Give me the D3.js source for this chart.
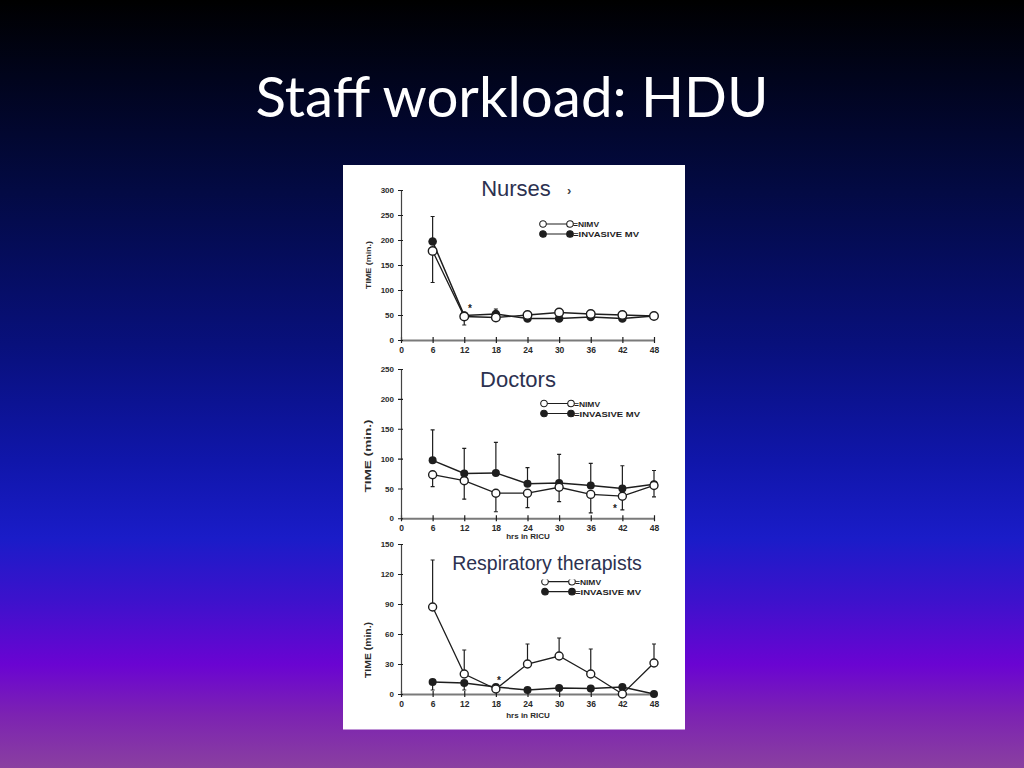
<!DOCTYPE html>
<html>
<head>
<meta charset="utf-8">
<script src="https://cdn.jsdelivr.net/npm/d3@7"></script>
<style>
  body { margin: 0; background: #000; }
  svg { display: block; }
</style>
</head>
<body>
<div id="slide"></div>
<script>
// values
const hours = [6, 12, 18, 24, 30, 36, 42, 48];
const xTicks = [0, 6, 12, 18, 24, 30, 36, 42, 48];

const nursesNimv = [178, 47, 45, 50, 55, 52, 50, 48];
const nursesInvasive = [197, 49, 52, 43, 43, 46, 43, 48];
const nursesInvasiveHigh = [247, null, 62, null, null, null, null, null];
const nursesNimvLow = [115, 30, null, null, null, null, null, null];
const nursesTicks = [0, 50, 100, 150, 200, 250, 300];

const doctorsNimv = [73, 63, 42, 42, 52, 40, 37, 55];
const doctorsInvasive = [97, 75, 76, 58, 59, 55, 50, 57];
const doctorsInvasiveHigh = [148, 117, 127, 85, 107, 92, 88, 80];
const doctorsNimvLow = [53, 32, 11, 18, 28, 9, 14, 36];
const doctorsTicks = [0, 50, 100, 150, 200, 250];

const rtNimv = [87, 20, 5, 30, 38, 20, 0, 31];
const rtInvasive = [12, 11, 7, 4, 6, 5.5, 7, 0];
const rtNimvHigh = [134, 44, null, 50, 56, 45, null, 50];
const rtInvasiveLow = [4, 4, 3, null, null, null, null, null];
const rtTicks = [0, 30, 60, 90, 120, 150];

const ink = "#1e1e1e";
const fontChart = "'Liberation Sans', Arial, sans-serif";

const svg = d3.select("#slide").append("svg")
    .attr("width", 1024)
    .attr("height", 768);

// slide background
const grad = svg.append("defs").append("linearGradient")
    .attr("id", "bg").attr("x1", 0).attr("y1", 0).attr("x2", 0).attr("y2", 1);
[[0, "#000000"], [0.1, "#01041c"], [0.25, "#030a44"], [0.45, "#08107c"],
 [0.6, "#1016aa"], [0.7, "#1a1cc8"], [0.78, "#3c12cc"], [0.865, "#6a04d2"],
 [0.93, "#7c22b2"], [1, "#8a40a0"]].forEach(s => {
    grad.append("stop").attr("offset", s[0]).attr("stop-color", s[1]);
});
svg.append("rect").attr("width", 1024).attr("height", 768).attr("fill", "url(#bg)");

// title, fitted to the width it has on the slide
const title = svg.append("text")
    .text("Staff workload: HDU")
    .attr("x", 512).attr("y", 117)
    .attr("text-anchor", "middle")
    .attr("font-family", "Lato, 'Open Sans', sans-serif")
    .attr("font-size", 60)
    .attr("fill", "#ffffff");
const tw = title.node().getComputedTextLength();
title.attr("font-size", 60 * 513 / tw);

// white figure panel
svg.append("rect")
    .attr("x", 343).attr("y", 165)
    .attr("width", 342).attr("height", 564.5)
    .attr("fill", "#ffffff");

const defs = svg.select("defs");

const drawPanel = (cfg, idx) => {
    defs.append("clipPath").attr("id", "clip" + idx)
        .append("rect")
        .attr("x", 343).attr("y", cfg.clip[0])
        .attr("width", 342).attr("height", cfg.clip[1] - cfg.clip[0]);

    const g = svg.append("g").attr("clip-path", "url(#clip" + idx + ")");

    const x = d3.scaleLinear().domain([0, 48]).range([401, 654]);
    const y = d3.scaleLinear().domain([0, cfg.ticks[cfg.ticks.length - 1]]).range(cfg.yRange);

    // x axis
    const xa = g.append("g")
        .attr("transform", "translate(0," + y(0) + ")")
        .call(d3.axisBottom(x).tickValues(xTicks).tickSize(3).tickPadding(4).tickSizeOuter(0));
    xa.select(".domain").attr("stroke", "#7a7a7a").attr("stroke-width", 2);
    xa.selectAll(".tick line").attr("y1", -3).attr("stroke", ink).attr("stroke-width", 1.2);
    xa.selectAll(".tick text")
        .attr("font-family", fontChart).attr("font-size", 8.5)
        .attr("font-weight", "bold").attr("fill", "#2a2a2a");

    // y axis
    const ya = g.append("g")
        .attr("transform", "translate(401,0)")
        .call(d3.axisLeft(y).tickValues(cfg.ticks).tickSize(3).tickPadding(4).tickSizeOuter(0));
    ya.select(".domain").attr("stroke", "#444").attr("stroke-width", 1.2);
    ya.selectAll(".tick line").attr("x1", 2).attr("stroke", ink).attr("stroke-width", 1.1);
    ya.selectAll(".tick text")
        .attr("font-family", fontChart).attr("font-size", 8)
        .attr("font-weight", "bold").attr("fill", "#2a2a2a");

    // axis titles
    g.append("text")
        .text("TIME (min.)")
        .attr("transform", "translate(371," + cfg.yLabel[0] + ") rotate(-90)")
        .attr("text-anchor", "middle")
        .attr("font-family", fontChart).attr("font-weight", "bold")
        .attr("font-size", cfg.yLabel[1])
        .attr("textLength", cfg.yLabel[2]).attr("lengthAdjust", "spacingAndGlyphs")
        .attr("fill", "#2a2a2a");

    g.append("text")
        .text("hrs in RICU")
        .attr("x", 528).attr("y", cfg.xLabelY)
        .attr("text-anchor", "middle")
        .attr("font-family", fontChart).attr("font-weight", "bold")
        .attr("font-size", 8).attr("fill", "#2a2a2a");

    const line = d3.line().x((d, i) => x(hours[i])).y(d => y(d));

    // error bars
    const bars = (vals, base) => {
        vals.forEach((v, i) => {
            if (v === null) return;
            const cx = x(hours[i]);
            g.append("line")
                .attr("x1", cx).attr("x2", cx)
                .attr("y1", y(base[i])).attr("y2", y(v))
                .attr("stroke", ink).attr("stroke-width", 1.2);
            g.append("line")
                .attr("x1", cx - 2).attr("x2", cx + 2)
                .attr("y1", y(v)).attr("y2", y(v))
                .attr("stroke", ink).attr("stroke-width", 1.2);
        });
    };
    cfg.bars.forEach(b => bars(b[0], b[1]));

    // series lines
    g.append("path").datum(cfg.invasive)
        .attr("d", line).attr("fill", "none")
        .attr("stroke", ink).attr("stroke-width", 1.5);
    g.append("path").datum(cfg.nimv)
        .attr("d", line).attr("fill", "none")
        .attr("stroke", ink).attr("stroke-width", 1.3);

    // markers
    g.selectAll(".inv").data(cfg.invasive).join("circle")
        .attr("cx", (d, i) => x(hours[i])).attr("cy", d => y(d))
        .attr("r", cfg.r).attr("fill", ink);
    g.selectAll(".nimv").data(cfg.nimv).join("circle")
        .attr("cx", (d, i) => x(hours[i])).attr("cy", d => y(d))
        .attr("r", cfg.r).attr("fill", "#ffffff")
        .attr("stroke", ink).attr("stroke-width", 1.4);

    // significance mark
    g.append("text")
        .text("*")
        .attr("x", cfg.star[0]).attr("y", cfg.star[1] + 5)
        .attr("text-anchor", "middle")
        .attr("font-family", fontChart).attr("font-weight", "bold")
        .attr("font-size", 10).attr("fill", ink);

    // legend
    const lg = g.append("g").attr("transform", "translate(" + cfg.legend[0] + "," + cfg.legend[1] + ")");
    [["=NIMV", false, 0, 26], ["=INVASIVE MV", true, 10, 66]].forEach(r => {
        lg.append("line")
            .attr("x1", 0).attr("x2", 27).attr("y1", r[2]).attr("y2", r[2])
            .attr("stroke", ink).attr("stroke-width", 1.2);
        [0, 27].forEach(cx => {
            lg.append("circle")
                .attr("cx", cx).attr("cy", r[2]).attr("r", 3.3)
                .attr("fill", r[1] ? ink : "#ffffff")
                .attr("stroke", ink).attr("stroke-width", 1.1);
        });
        lg.append("text")
            .text(r[0])
            .attr("x", 30).attr("y", r[2] + 3)
            .attr("font-family", fontChart).attr("font-weight", "bold")
            .attr("font-size", 8)
            .attr("textLength", r[3]).attr("lengthAdjust", "spacingAndGlyphs")
            .attr("fill", ink);
    });

    // slide caption pasted over the figure
    g.append("rect")
        .attr("x", cfg.caption.box[0]).attr("y", cfg.caption.box[1])
        .attr("width", cfg.caption.box[2]).attr("height", cfg.caption.box[3])
        .attr("fill", "#ffffff");
    g.append("text")
        .text(cfg.caption.text)
        .attr("x", cfg.caption.x).attr("y", cfg.caption.y)
        .attr("text-anchor", "middle")
        .attr("font-family", fontChart)
        .attr("font-size", cfg.caption.size)
        .attr("fill", "#2c3150");
};

const panels = [
    {
        ticks: nursesTicks, yRange: [340, 190], clip: [165, 360.5],
        nimv: nursesNimv, invasive: nursesInvasive,
        bars: [[nursesInvasiveHigh, nursesInvasive], [nursesNimvLow, nursesNimv]],
        r: 4.3, star: [470, 307], legend: [543, 224],
        yLabel: [265, 8, 48], xLabelY: 367,
        caption: { text: "Nurses", x: 516, y: 196, size: 22, box: [470, 176, 90, 26] }
    },
    {
        ticks: doctorsTicks, yRange: [518.3, 369], clip: [360.5, 540.5],
        nimv: doctorsNimv, invasive: doctorsInvasive,
        bars: [[doctorsInvasiveHigh, doctorsInvasive], [doctorsNimvLow, doctorsNimv]],
        r: 4, star: [615, 507], legend: [544, 403.5],
        yLabel: [456, 9.5, 73], xLabelY: 539,
        caption: { text: "Doctors", x: 518, y: 387, size: 22, box: [470, 367, 96, 26] }
    },
    {
        ticks: rtTicks, yRange: [694, 544], clip: [540.5, 729.5],
        nimv: rtNimv, invasive: rtInvasive,
        bars: [[rtNimvHigh, rtNimv], [rtInvasiveLow, rtInvasive]],
        r: 4, star: [499, 679], legend: [545, 581.7],
        yLabel: [650, 9, 56], xLabelY: 718,
        caption: { text: "Respiratory therapists", x: 547, y: 570, size: 19.5, box: [445, 549, 205, 30.5] }
    }
];

panels.forEach(drawPanel);

// stray mark next to the first caption
svg.append("text")
    .text("\u203a")
    .attr("x", 567).attr("y", 195)
    .attr("font-family", fontChart).attr("font-size", 13)
    .attr("font-weight", "bold")
    .attr("fill", "#444");
</script>
</body>
</html>
